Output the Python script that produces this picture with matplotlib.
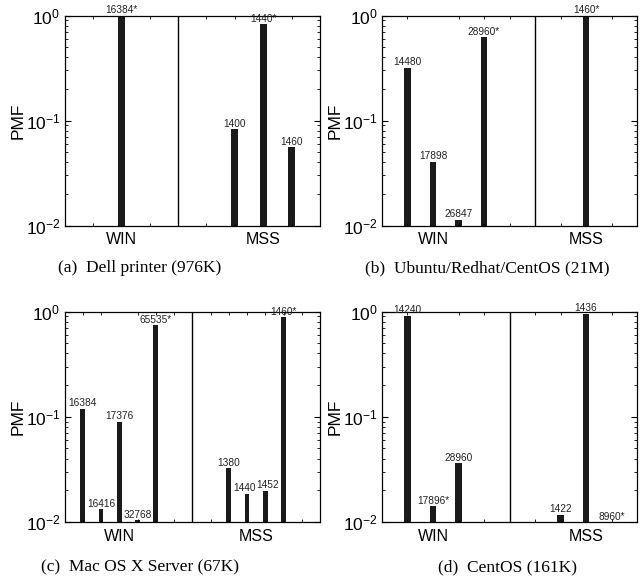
import numpy as np
import matplotlib
matplotlib.use("Agg")
import matplotlib.pyplot as plt
from matplotlib.ticker import LogLocator, FixedLocator, NullFormatter

plt.rcParams['font.family'] = ['Liberation Sans', 'DejaVu Sans']
plt.rcParams['mathtext.fontset'] = 'custom'
plt.rcParams['mathtext.rm'] = 'Liberation Sans'
plt.rcParams['mathtext.it'] = 'Liberation Sans:italic'

# data (PMF per value, WIN group then MSS group)
win_a = ['16384*']
pmf_win_a = [1.0]
mss_a = ['1400', '1440*', '1460']
pmf_mss_a = [0.083, 0.83, 0.056]

win_b = ['14480', '17898', '26847', '28960*']
pmf_win_b = [0.318, 0.0405, 0.0114, 0.62]
mss_b = ['1460*']
pmf_mss_b = [1.0]

win_c = ['16384', '16416', '17376', '32768', '65535*']
pmf_win_c = [0.119, 0.0132, 0.090, 0.0104, 0.74]
mss_c = ['1380', '1440', '1452', '1460*']
pmf_mss_c = [0.0326, 0.0185, 0.0199, 0.885]

win_d = ['14240', '17896*', '28960']
pmf_win_d = [0.916, 0.0142, 0.0362]
mss_d = ['1422', '1436', '8960*']
pmf_mss_d = [0.0117, 0.95, 0.005]

captions = ['(a)  Dell printer (976K)', '(b)  Ubuntu/Redhat/CentOS (21M)',
            '(c)  Mac OS X Server (67K)', '(d)  CentOS (161K)']
group_names = ['WIN', 'MSS']

# layout: axes box in pixels (left, top, right, bottom), slot positions, bar width, caption centre
W, H = 644, 587
layout = [
    dict(box=(64.5, 15.5, 320, 225.5), win0=2, div=4, mss0=6, xmax=9, lab=(2, 7), bw=0.24, cap=(140, 268)),
    dict(box=(382, 15.5, 637, 225.5), win0=1, div=6, mss0=8, xmax=10, lab=(2, 8), bw=0.26, cap=(487, 268)),
    dict(box=(64.5, 311.5, 320, 522), win0=1, div=7, mss0=9, xmax=14, lab=(3, 10.5), bw=0.26, cap=(140, 567)),
    dict(box=(382, 311.5, 637, 522), win0=1, div=5, mss0=7, xmax=10, lab=(2, 8), bw=0.26, cap=(507, 567)),
]
panels = [
    (win_a, pmf_win_a, mss_a, pmf_mss_a),
    (win_b, pmf_win_b, mss_b, pmf_mss_b),
    (win_c, pmf_win_c, mss_c, pmf_mss_c),
    (win_d, pmf_win_d, mss_d, pmf_mss_d),
]
# small sideways nudges (points) for crowded labels in panel (c)
nudge = {(2, '1440'): -1.8, (2, '1452'): 1.8}

fig = plt.figure(figsize=(W / 100, H / 100), dpi=100)
ylo, yhi = 0.01, 1.0

for i, ((wl, wv, ml, mv), lay, cap) in enumerate(zip(panels, layout, captions)):
    l, t, r, b = lay['box']
    ax = fig.add_axes([l / W, 1 - b / H, (r - l) / W, (b - t) / H])
    ax.set_yscale('log')

    xw = lay['win0'] + np.arange(len(wv))
    xm = lay['mss0'] + np.arange(len(mv))
    xs = np.concatenate([xw, xm])
    vals = list(wv) + list(mv)
    labels = list(wl) + list(ml)

    ax.bar(xs, vals, width=lay['bw'], color='#1a1a1a', linewidth=0)
    for x, v, s in zip(xs, vals, labels):
        dx = nudge.get((i, s), 0)
        ax.annotate(s, (x, max(v, ylo)), xytext=(dx, 0.3), textcoords='offset points',
                    ha='center', va='bottom', fontsize=7.3, color='#222222')

    ax.axvline(lay['div'], color='black', linewidth=1.0)
    ax.set_xlim(0, lay['xmax'])
    ax.set_ylim(ylo, yhi)

    ax.set_xticks(lay['lab'])
    ax.set_xticklabels(group_names, fontsize=11.5)
    ax.xaxis.set_minor_locator(FixedLocator(np.arange(1, lay['xmax'])))
    ax.yaxis.set_major_locator(LogLocator(base=10, numticks=5))
    ax.yaxis.set_minor_locator(LogLocator(base=10, subs=np.arange(2, 10), numticks=20))
    ax.yaxis.set_minor_formatter(NullFormatter())
    ax.tick_params(axis='y', which='major', labelsize=12.5, direction='in', length=4,
                   left=True, right=True, pad=3)
    ax.tick_params(axis='y', which='minor', direction='in', length=2.5, left=True, right=True)
    ax.tick_params(axis='x', which='major', length=0, pad=5)
    ax.tick_params(axis='x', which='minor', direction='in', length=2.5, top=True, bottom=True)
    ax.set_ylabel('PMF', fontsize=12.5, labelpad=0)
    for sp in ax.spines.values():
        sp.set_linewidth(0.9)

    cx, cy = lay['cap']
    fig.text(cx / W, 1 - cy / H, cap, ha='center', va='center',
             fontsize=12.5, family=['Liberation Serif', 'DejaVu Serif'])

fig.savefig('out.png', dpi=100, facecolor='white')
